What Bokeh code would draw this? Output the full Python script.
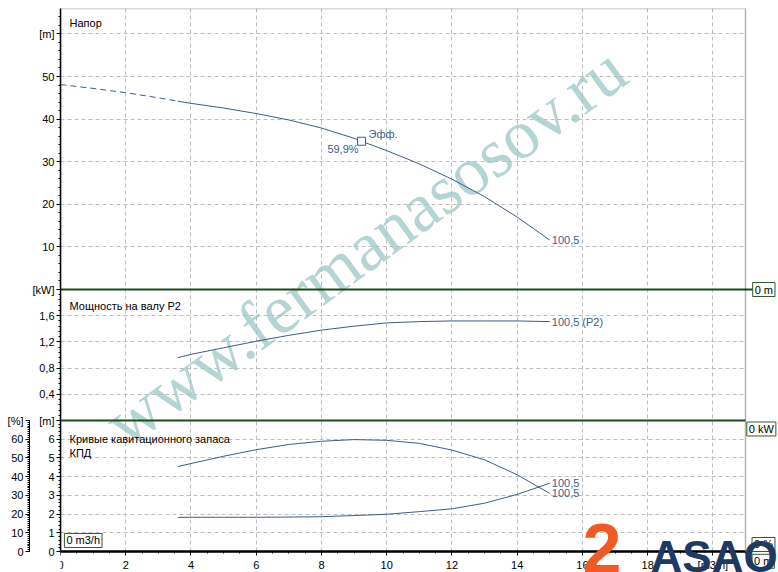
from bokeh.plotting import figure
from bokeh.models import Range1d, LinearAxis, FixedTicker, Label, BoxAnnotation
from bokeh.embed import file_html
from bokeh.resources import INLINE
from bokeh.core.properties import value

# ---------------- data ----------------
head_dash_flow = [0, 1, 2, 3, 3.6]
head_dash = [48.1, 47.2, 46.2, 45.0, 44.2]
head_flow = [3.6, 4, 5, 6, 7, 8, 9, 9.23, 10, 11, 12, 13, 14, 15]
head = [44.2, 43.7, 42.6, 41.3, 39.8, 37.9, 35.5, 34.8, 32.6, 29.5, 25.9, 21.8, 17.0, 11.6]
bep_flow = [9.23]
bep_head = [34.8]
bep_text = ["Эфф."]
bep_eff_text = ["59,9%"]

power_flow = [3.6, 4, 5, 6, 7, 8, 9, 10, 11, 12, 13, 14, 15]
power = [0.96, 1.01, 1.11, 1.21, 1.30, 1.38, 1.44, 1.49, 1.51, 1.52, 1.52, 1.52, 1.51]

eff_flow = [3.6, 4, 5, 6, 7, 8, 9, 10, 11, 12, 13, 14, 15]
eff = [45.4, 47.0, 50.9, 54.4, 57.2, 58.9, 59.8, 59.4, 57.8, 54.2, 49.0, 41.0, 31.0]

npsh_flow = [3.6, 4, 5, 6, 7, 8, 9, 10, 11, 12, 13, 14, 15]
npsh = [1.82, 1.83, 1.83, 1.83, 1.84, 1.86, 1.92, 1.99, 2.13, 2.28, 2.58, 3.05, 3.65]

curve_end_labels = ["100,5", "100,5 (P2)", "100,5", "100,5"]

x_ticks = [0, 2, 4, 6, 8, 10, 12, 14, 16, 18, 20]
x_labels = ["0", "2", "4", "6", "8", "10", "12", "14", "16", "18", "[m3/h]"]
head_ticks = [10, 20, 30, 40, 50, 60]
head_labels = ["10", "20", "30", "40", "50", "[m]"]
power_ticks = [0.4, 0.8, 1.2, 1.6, 2.0]
power_labels = ["0,4", "0,8", "1,2", "1,6", "[kW]"]
npsh_ticks = [0, 1, 2, 3, 4, 5, 6, 7]
npsh_labels = ["0", "1", "2", "3", "4", "5", "6", "[m]"]
pct_ticks = [0, 10, 20, 30, 40, 50, 60, 70]
pct_labels = ["0", "10", "20", "30", "40", "50", "60", "[%]"]

panel_titles = ["Напор", "Мощность на валу P2", "Кривые кавитационного запаса", "КПД"]
box_texts = ["0 m3/h", "0 m", "0 kW", "0 %", "0 m"]

# ---------------- layout / styles ----------------
PLOT_H = 543                 # height of the three stacked panels (px)
FRAME_W, FRAME_H = 718, 564  # drawing frame, includes room right/below for the boxes & logo
b1 = 131 / PLOT_H            # bottom panel top (normalized)
b2 = 262 / PLOT_H            # middle panel top (normalized)
Y0 = -(FRAME_H - PLOT_H) / PLOT_H
X_MAX = 21.0                 # right border of the chart
X_END = X_MAX + 33 / 32.62
HEAD_TOP = 281 / 4.26
POWER_TOP = 2.0
NPSH_TOP = 7.0
PCT_TOP = 70.0

CURVE = "#3b5d8a"
GRID = "#bdbdbd"
SEP = "#1d4a1d"
FONT = "Liberation Sans"


def head_n(v):
    return round(b2 + v / HEAD_TOP * (1 - b2), 9)


def power_n(v):
    return round(b1 + v / POWER_TOP * (b2 - b1), 9)


def npsh_n(v):
    return round(v / NPSH_TOP * b1, 9)


def head_v(y):
    return (y - b2) * HEAD_TOP / (1 - b2)


def power_v(y):
    return (y - b1) * POWER_TOP / (b2 - b1)


p = figure(frame_width=FRAME_W, frame_height=FRAME_H,
           x_range=Range1d(0, X_END), y_range=Range1d(Y0, 1),
           output_backend="svg", toolbar_location=None,
           min_border_left=60, min_border_right=0, min_border_top=8, min_border_bottom=0,
           background_fill_color="white", border_fill_color="white",
           outline_line_color=None)

p.extra_y_ranges = {
    "head": Range1d(head_v(Y0), head_v(1)),
    "power": Range1d(power_v(Y0), power_v(1)),
    "npsh": Range1d(Y0 * NPSH_TOP / b1, NPSH_TOP / b1),
    "pct": Range1d(Y0 * PCT_TOP / b1, PCT_TOP / b1),
}

# combined left axis ticks
left_ticks = [npsh_n(v) for v in npsh_ticks] + [power_n(v) for v in power_ticks] + [head_n(v) for v in head_ticks]
left_labels = npsh_labels + power_labels + head_labels
left_minor = ([npsh_n(i * 0.2) for i in range(36)] + [power_n(i * 0.08) for i in range(26)]
              + [head_n(i * 2) for i in range(33)])
left_ticker = FixedTicker(ticks=left_ticks, minor_ticks=left_minor)

ya = p.yaxis[0]
ya.ticker = left_ticker
ya.bounds = (0, 1)
ya.major_label_overrides = dict(zip(left_ticks, left_labels))
ya.major_label_text_font = FONT
ya.major_label_text_font_size = "11px"
ya.major_label_text_color = "black"
ya.major_label_standoff = 2
ya.major_tick_out = 4
ya.major_tick_in = 0
ya.minor_tick_out = 2
ya.minor_tick_in = 0
ya.axis_line_width = 1.5

pa = LinearAxis(y_range_name="pct",
                ticker=FixedTicker(ticks=pct_ticks, minor_ticks=list(range(0, 71))),
                major_label_overrides=dict(zip(pct_ticks, pct_labels)),
                bounds=(0, PCT_TOP))
pa.major_label_text_font = FONT
pa.major_label_text_font_size = "11px"
pa.major_label_text_color = "black"
pa.major_label_standoff = 2
pa.major_tick_out = 4
pa.major_tick_in = 0
pa.minor_tick_out = 2
pa.minor_tick_in = 0
p.add_layout(pa, "left")

xa = p.xaxis[0]
xa.fixed_location = 0
xa.bounds = (0, X_MAX)
xa.ticker = FixedTicker(ticks=x_ticks, minor_ticks=[i * 0.5 for i in range(43)])
xa.major_label_overrides = dict(zip(x_ticks, x_labels))
xa.major_label_text_font = FONT
xa.major_label_text_font_size = "11px"
xa.major_label_text_color = "black"
xa.major_label_standoff = 3
xa.major_tick_out = 4
xa.major_tick_in = 0
xa.minor_tick_out = 2
xa.minor_tick_in = 0
xa.axis_line_width = 2.5

p.xgrid[0].ticker = FixedTicker(ticks=x_ticks[1:])
p.xgrid[0].cross_bounds = (0, 1)
p.ygrid[0].ticker = FixedTicker(ticks=left_ticks)
p.ygrid[0].cross_bounds = (0, X_MAX)
for g in (p.xgrid[0], p.ygrid[0]):
    g.grid_line_color = GRID
    g.grid_line_dash = "4 3"
    g.grid_line_width = 1

# watermark
p.add_layout(Label(x=2.3, y=0.166, text="www.fermanasosov.ru", angle=0.63,
                   text_font="Liberation Serif", text_font_size="70px",
                   text_color="#9cc5c5", text_alpha=0.75, level="underlay"))

# panel separators and chart border
p.segment(x0=[0, 0], y0=[b2, b1], x1=[X_MAX + 0.3, X_MAX], y1=[b2, b1], line_color=SEP, line_width=2)
p.add_layout(BoxAnnotation(left=0, right=X_MAX, bottom=0, top=1, fill_alpha=0,
                           line_color="black", line_width=1.5))

# curves
p.line(head_dash_flow, head_dash, y_range_name="head", line_color=CURVE, line_width=1, line_dash="6 4")
p.line(head_flow, head, y_range_name="head", line_color=CURVE, line_width=1)
p.line(power_flow, power, y_range_name="power", line_color=CURVE, line_width=1)
p.line(eff_flow, eff, y_range_name="pct", line_color=CURVE, line_width=1)
p.line(npsh_flow, npsh, y_range_name="npsh", line_color=CURVE, line_width=1)

p.scatter(bep_flow, bep_head, y_range_name="head", marker="square", size=8,
          fill_color="white", line_color=CURVE, line_width=1)
p.text(bep_flow, bep_head, text=bep_text, y_range_name="head", x_offset=7, y_offset=-7,
       text_font=value(FONT), text_font_size="11px", text_color=CURVE, text_baseline="middle")
p.text(bep_flow, bep_head, text=bep_eff_text, y_range_name="head", x_offset=-3, y_offset=8,
       text_font=value(FONT), text_font_size="11px", text_color=CURVE, text_baseline="middle",
       text_align="right")

ends = [(head_flow, head, "head"), (power_flow, power, "power"),
        (npsh_flow, npsh, "npsh"), (eff_flow, eff, "pct")]
for (xs, ys, rn), t in zip(ends, curve_end_labels):
    p.text([xs[-1]], [ys[-1]], text=[t], y_range_name=rn, x_offset=2,
           text_font=value(FONT), text_font_size="11px", text_color=CURVE,
           text_baseline="middle", text_align="left")

# panel titles
title_pos = [(0.276, 0.9724), (0.276, 0.453), (0.276, 0.2081), (0.276, 0.1823)]
for t, (tx, ty) in zip(panel_titles, title_pos):
    p.add_layout(Label(x=tx, y=ty, text=t, text_font=FONT, text_font_size="11px",
                       text_color="black", text_baseline="middle"))

# boxed value labels
box_kw = dict(text_font=FONT, text_font_size="11px", text_color="black", text_baseline="middle",
              border_line_color="#2e5e2e", border_line_width=1, background_fill_color="white",
              padding=(2, 1))
box_pos = [(0.12, 0.0203), (21.22, b2), (21.04, 0.2256), (21.2, 0.0129), (21.2, -0.018)]
for t, (bx, by) in zip(box_texts, box_pos):
    p.add_layout(Label(x=bx, y=by, text=t, **box_kw))

# logo
p.add_layout(Label(x=16.0, y=-0.0387, text="2", text_font=FONT, text_font_style="bold",
                   text_font_size="70px", text_color="#f15a24"))
p.add_layout(Label(x=18.09, y=-0.0543, text="ASAO", text_font=FONT, text_font_style="bold",
                   text_font_size="44px", text_color="#1c3a63"))

open("out.html", "w").write(file_html(p, INLINE))
